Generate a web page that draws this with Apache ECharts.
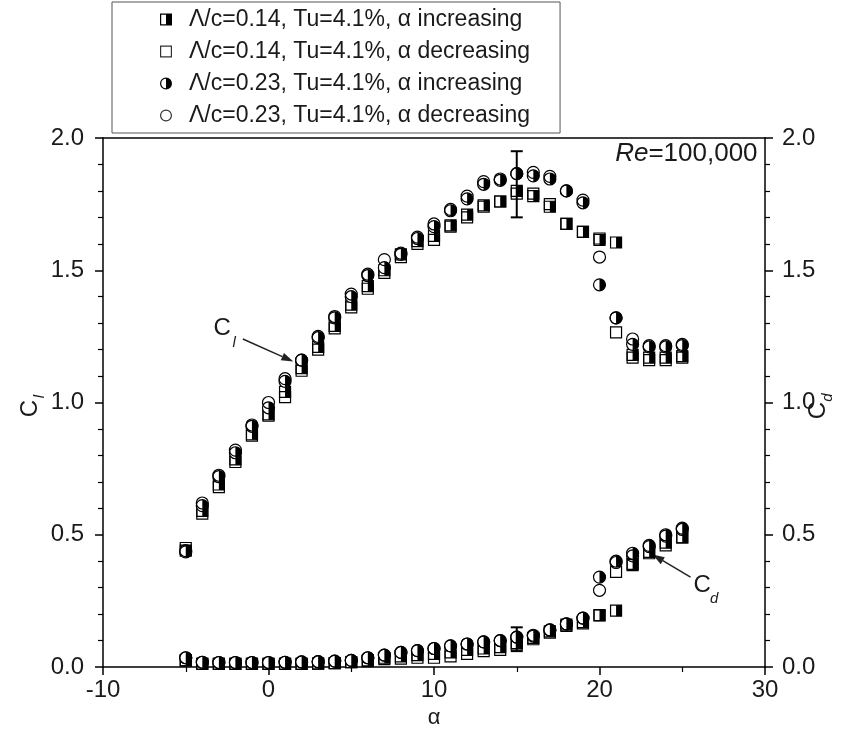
<!DOCTYPE html>
<html>
<head>
<meta charset="utf-8">
<script src="https://cdn.jsdelivr.net/npm/echarts@6/dist/echarts.min.js"></script>
<style>
  html, body { margin: 0; padding: 0; background: #fff; }
  #chart { width: 848px; height: 736px; }
</style>
</head>
<body>
<div id="chart"></div>
<script>
// Angle of attack (deg)
var alpha = [-5, -4, -3, -2, -1, 0, 1, 2, 3, 4, 5, 6, 7, 8, 9, 10,
             11, 12, 13, 14, 15, 16, 17, 18, 19, 20, 21, 22, 23, 24, 25];

// Lift coefficient
var clA014Inc = [0.44, 0.59, 0.69, 0.785, 0.88, 0.955, 1.04, 1.13, 1.21, 1.29, 1.37, 1.44, 1.50, 1.56, 1.61, 1.63,
                 1.67, 1.71, 1.745, 1.76, 1.80, 1.78, 1.74, 1.675, 1.645, 1.615, 1.605, 1.18, 1.17, 1.17, 1.175];
var clA014Dec = [0.45, 0.58, 0.68, 0.775, 0.875, 0.95, 1.02, 1.12, 1.20, 1.28, 1.36, 1.43, 1.49, 1.55, 1.60, 1.615,
                 1.665, 1.70, 1.74, 1.76, 1.79, 1.79, 1.75, 1.675, 1.645, 1.62, 1.265, 1.17, 1.16, 1.16, 1.17];
var clA023Inc = [0.435, 0.61, 0.72, 0.81, 0.91, 0.98, 1.08, 1.16, 1.245, 1.32, 1.40, 1.48, 1.51, 1.56, 1.62, 1.665,
                 1.725, 1.77, 1.825, 1.84, 1.865, 1.857, 1.845, 1.80, 1.755, 1.445, 1.32, 1.22, 1.21, 1.21, 1.215];
var clA023Dec = [0.44, 0.62, 0.725, 0.82, 0.915, 1.00, 1.09, 1.16, 1.25, 1.325, 1.41, 1.485, 1.54, 1.565, 1.625, 1.675,
                 1.73, 1.78, 1.835, 1.845, 1.865, 1.87, 1.855, 1.80, 1.765, 1.55, 1.32, 1.24, 1.215, 1.215, 1.22];

// Drag coefficient
var cdA014Inc = [0.025, 0.012, 0.012, 0.012, 0.012, 0.012, 0.012, 0.012, 0.013, 0.015, 0.018, 0.025, 0.035, 0.04, 0.045, 0.05,
                 0.055, 0.065, 0.07, 0.075, 0.09, 0.11, 0.135, 0.16, 0.17, 0.196, 0.213, 0.39, 0.435, 0.47, 0.49];
var cdA014Dec = [0.025, 0.012, 0.012, 0.012, 0.012, 0.012, 0.012, 0.012, 0.013, 0.015, 0.018, 0.022, 0.03, 0.032, 0.035, 0.035,
                 0.04, 0.05, 0.06, 0.065, 0.085, 0.105, 0.13, 0.155, 0.165, 0.195, 0.36, 0.385, 0.43, 0.46, 0.49];
var cdA023Inc = [0.035, 0.018, 0.017, 0.017, 0.017, 0.017, 0.018, 0.019, 0.02, 0.022, 0.025, 0.035, 0.045, 0.055, 0.062, 0.07,
                 0.08, 0.087, 0.095, 0.10, 0.113, 0.117, 0.14, 0.163, 0.185, 0.34, 0.40, 0.43, 0.46, 0.50, 0.525];
var cdA023Dec = [0.035, 0.018, 0.017, 0.017, 0.017, 0.017, 0.018, 0.019, 0.02, 0.022, 0.025, 0.035, 0.045, 0.055, 0.062, 0.07,
                 0.08, 0.087, 0.095, 0.10, 0.113, 0.12, 0.14, 0.163, 0.185, 0.29, 0.395, 0.42, 0.455, 0.495, 0.52];

// Uncertainty bars at alpha = 15
var errAlpha = [15, 15];
var errLow = [1.70, 0.06];
var errHigh = [1.95, 0.15];

var seriesNames = [
  '\u039B/c=0.14, Tu=4.1%, \u03B1 increasing',
  '\u039B/c=0.14, Tu=4.1%, \u03B1 decreasing',
  '\u039B/c=0.23, Tu=4.1%, \u03B1 increasing',
  '\u039B/c=0.23, Tu=4.1%, \u03B1 decreasing'
];

var FONT = 'Liberation Sans, Arial, sans-serif';
var INK = '#1a1a1a';

// legend icons: outlined shapes, right half solid where filled
var ICON_SQ_HALF = 'path://M0 0L10 0L10 10L0 10Z M1 1L1 9L5 9L5 1Z';
var ICON_SQ_OPEN = 'path://M0 0L10 0L10 10L0 10Z M1 1L1 9L9 9L9 1Z';
var ICON_CI_HALF = 'path://M5 0A5 5 0 1 1 5 10A5 5 0 1 1 5 0Z M5 1A4 4 0 0 0 5 9Z';
var ICON_CI_OPEN = 'path://M5 0A5 5 0 1 1 5 10A5 5 0 1 1 5 0Z M5 1A4 4 0 1 0 5 9A4 4 0 1 0 5 1Z';

function pairs(cl, cd) {
  var out = [];
  for (var i = 0; i < alpha.length; i++) out.push([alpha[i], cl[i]]);
  for (var j = 0; j < alpha.length; j++) out.push([alpha[j], cd[j]]);
  return out;
}

// half-filled markers keep a white left half; open markers are hollow outlines
function markerRenderer(shape, half) {
  var S = 11, R = 6;
  return function (params, api) {
    var p = api.coord([api.value(0), api.value(1)]);
    var cx = p[0], cy = p[1];
    var kids = [];
    var base = { fill: half ? '#fff' : 'none', stroke: '#000', lineWidth: 1.2 };
    if (shape === 'square') {
      kids.push({ type: 'rect', shape: { x: cx - S / 2, y: cy - S / 2, width: S, height: S }, style: base });
      if (half) kids.push({ type: 'rect', shape: { x: cx, y: cy - S / 2, width: S / 2, height: S },
                            style: { fill: '#000' } });
    } else {
      kids.push({ type: 'circle', shape: { cx: cx, cy: cy, r: R }, style: base });
      if (half) kids.push({ type: 'sector', shape: { cx: cx, cy: cy, r: R, r0: 0,
                            startAngle: -Math.PI / 2, endAngle: Math.PI / 2, clockwise: true },
                            style: { fill: '#000' } });
    }
    return { type: 'group', children: kids };
  };
}

function errorRenderer(params, api) {
  var a = api.value(0);
  var lo = api.coord([a, api.value(1)]);
  var hi = api.coord([a, api.value(2)]);
  var w = 6;
  var st = { stroke: '#000', lineWidth: 2 };
  return {
    type: 'group',
    children: [
      { type: 'line', shape: { x1: lo[0], y1: lo[1], x2: hi[0], y2: hi[1] }, style: st },
      { type: 'line', shape: { x1: lo[0] - w, y1: lo[1], x2: lo[0] + w, y2: lo[1] }, style: st },
      { type: 'line', shape: { x1: hi[0] - w, y1: hi[1], x2: hi[0] + w, y2: hi[1] }, style: st }
    ]
  };
}

var errData = errAlpha.map(function (a, i) { return [a, errLow[i], errHigh[i]]; });

function yAxisDef(position, labelMargin) {
  return {
    type: 'value', min: 0, max: 2, interval: 0.5, position: position,
    axisLine: { show: true, onZero: false, lineStyle: { color: '#000', width: 1.5 } },
    axisTick: { show: true, inside: false, length: 8, lineStyle: { color: '#000', width: 1.5 } },
    minorTick: { show: true, splitNumber: 5, length: 5, lineStyle: { color: '#000', width: 1.2 } },
    splitLine: { show: false },
    axisLabel: { fontFamily: FONT, fontSize: 24, color: INK, margin: labelMargin,
                 formatter: function (v) { return v.toFixed(1); } }
  };
}

var chart = echarts.init(document.getElementById('chart'), null, { renderer: 'canvas' });

var option = {
  animation: false,
  backgroundColor: '#fff',
  grid: { left: 103, right: 83, top: 138, bottom: 69, containLabel: false },
  legend: {
    orient: 'vertical', left: 112, top: 2,
    padding: [6, 30, 6, 48],
    itemWidth: 12, itemHeight: 12, itemGap: 9,
    borderColor: '#555', borderWidth: 1,
    textStyle: { fontFamily: FONT, fontSize: 23, color: INK, padding: [0, 0, 0, 12] },
    selectedMode: false,
    data: [
      { name: seriesNames[0], icon: ICON_SQ_HALF, itemStyle: { color: '#000' } },
      { name: seriesNames[1], icon: ICON_SQ_OPEN, itemStyle: { color: '#333' } },
      { name: seriesNames[2], icon: ICON_CI_HALF, itemStyle: { color: '#000' } },
      { name: seriesNames[3], icon: ICON_CI_OPEN, itemStyle: { color: '#333' } }
    ]
  },
  xAxis: [
    {
      type: 'value', min: -10, max: 30, interval: 10, position: 'bottom',
      axisLine: { onZero: false, lineStyle: { color: '#000', width: 1.5 } },
      axisTick: { length: 8, lineStyle: { color: '#000', width: 1.5 } },
      minorTick: { show: true, splitNumber: 2, length: 5, lineStyle: { color: '#000', width: 1.2 } },
      splitLine: { show: false },
      axisLabel: { fontFamily: FONT, fontSize: 24, color: INK, margin: 11 }
    },
    {
      type: 'value', min: -10, max: 30, position: 'top',
      axisLine: { onZero: false, lineStyle: { color: '#000', width: 1.5 } },
      axisTick: { show: false }, axisLabel: { show: false }, splitLine: { show: false }
    }
  ],
  yAxis: [yAxisDef('left', 19), yAxisDef('right', 17)],
  series: [
    { name: seriesNames[0], type: 'custom', renderItem: markerRenderer('square', true),
      data: pairs(clA014Inc, cdA014Inc), z: 2 },
    { name: seriesNames[1], type: 'custom', renderItem: markerRenderer('square', false),
      data: pairs(clA014Dec, cdA014Dec), z: 3 },
    { name: seriesNames[2], type: 'custom', renderItem: markerRenderer('circle', true),
      data: pairs(clA023Inc, cdA023Inc), z: 4 },
    { name: seriesNames[3], type: 'custom', renderItem: markerRenderer('circle', false),
      data: pairs(clA023Dec, cdA023Dec), z: 5 },
    { name: 'uncertainty', type: 'custom', renderItem: errorRenderer, data: errData, z: 6 }
  ]
};

chart.setOption(option);

// Annotations anchored in data space
function px(a, v) { return chart.convertToPixel({ xAxisIndex: 0, yAxisIndex: 0 }, [a, v]); }

function arrow(from, to) {
  var dx = to[0] - from[0], dy = to[1] - from[1];
  var len = Math.sqrt(dx * dx + dy * dy);
  var ux = dx / len, uy = dy / len;
  var hl = 12, hw = 4;
  var bx = to[0] - ux * hl, by = to[1] - uy * hl;
  return [
    { type: 'line', shape: { x1: from[0], y1: from[1], x2: bx, y2: by },
      style: { stroke: '#222', lineWidth: 1.5 } },
    { type: 'polygon', shape: { points: [[to[0], to[1]], [bx - uy * hw, by + ux * hw], [bx + uy * hw, by - ux * hw]] },
      style: { fill: '#222' } }
  ];
}

function coefLabel(pos, main, sub) {
  return [
    { type: 'text', x: pos[0], y: pos[1],
      style: { text: main, font: '24px ' + FONT, fill: INK, textAlign: 'center', textVerticalAlign: 'middle' } },
    { type: 'text', x: pos[0] + 12, y: pos[1] + 14,
      style: { text: sub, font: 'italic 15px ' + FONT, fill: INK, textAlign: 'center', textVerticalAlign: 'middle' } }
  ];
}

var clArrowFrom = px(-1.55, 1.24), clArrowTo = px(1.5, 1.155);
var cdArrowFrom = px(25.5, 0.34), cdArrowTo = px(23.2, 0.425);
var clText = px(-2.8, 1.28), cdText = px(26.2, 0.31);
var reText = px(29.55, 1.94);
var grid = chart.getModel().getComponent('grid').coordinateSystem.getRect();

var graphics = []
  .concat(arrow(clArrowFrom, clArrowTo))
  .concat(arrow(cdArrowFrom, cdArrowTo))
  .concat(coefLabel(clText, 'C', 'l'))
  .concat(coefLabel(cdText, 'C', 'd'));

graphics.push({
  type: 'text', x: reText[0], y: reText[1],
  style: { rich: { i: { fontStyle: 'italic', fontSize: 26, fontFamily: FONT, fill: INK },
                   n: { fontSize: 26, fontFamily: FONT, fill: INK } },
           text: '{i|Re}{n|=100,000}', textAlign: 'right', textVerticalAlign: 'middle' }
});

// axis titles
graphics.push({
  type: 'text', x: grid.x + grid.width / 2, y: 718,
  style: { text: '\u03B1', font: '22px ' + FONT, fill: INK, textAlign: 'center', textVerticalAlign: 'middle' }
});
graphics.push({
  type: 'group', x: 30, y: grid.y + grid.height / 2 + 6, rotation: Math.PI / 2,
  children: [
    { type: 'text', x: 0, y: 0, style: { text: 'C', font: '24px ' + FONT, fill: INK, textAlign: 'center', textVerticalAlign: 'middle' } },
    { type: 'text', x: 12, y: 10, style: { text: 'l', font: 'italic 15px ' + FONT, fill: INK, textAlign: 'center', textVerticalAlign: 'middle' } }
  ]
});
graphics.push({
  type: 'group', x: 818, y: grid.y + grid.height / 2 + 8, rotation: Math.PI / 2,
  children: [
    { type: 'text', x: 0, y: 0, style: { text: 'C', font: '24px ' + FONT, fill: INK, textAlign: 'center', textVerticalAlign: 'middle' } },
    { type: 'text', x: 13, y: 10, style: { text: 'd', font: 'italic 15px ' + FONT, fill: INK, textAlign: 'center', textVerticalAlign: 'middle' } }
  ]
});

chart.setOption({ graphic: graphics });
</script>
</body>
</html>
